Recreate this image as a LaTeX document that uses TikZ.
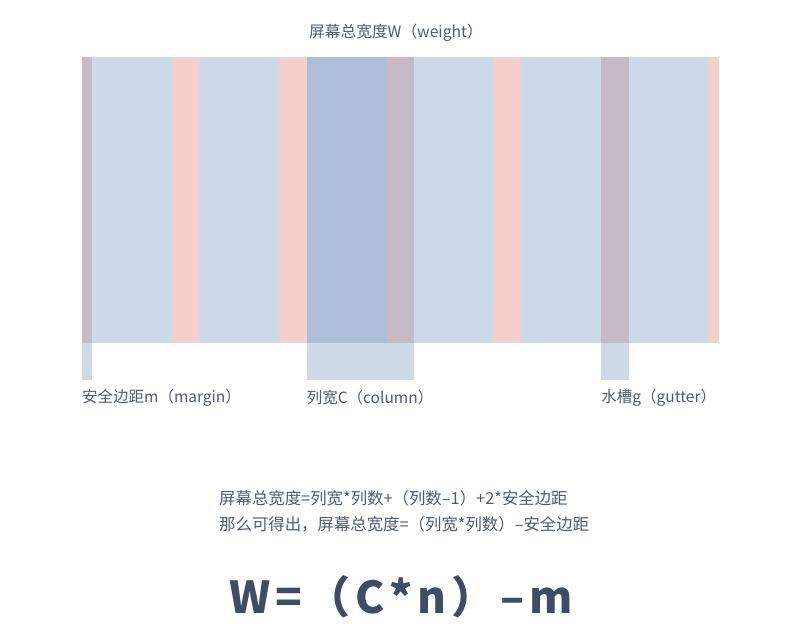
\documentclass[tikz,border=0pt]{standalone}
\usepackage{fontspec}
\setmainfont{Noto Sans CJK SC}
\newfontfamily\formfont[LetterSpace=11]{Noto Sans CJK SC}
\usepackage{tikz}

\definecolor{colblue}{HTML}{CDDAEA}
\definecolor{gutpink}{HTML}{F5D0CB}
\definecolor{colsel}{HTML}{ADBFD8}
\definecolor{gutsel}{HTML}{C6BAC6}
\definecolor{extblue}{HTML}{CFDAE7}
\definecolor{labelgray}{HTML}{505B70}
\definecolor{formgray}{HTML}{3E4C66}

\begin{document}
\begin{tikzpicture}[x=1pt,y=-1pt,
			column box/.style={fill=colblue},
			gutter box/.style={fill=gutpink},
			marked column/.style={fill=colsel},
			marked gutter/.style={fill=gutsel},
			extension box/.style={fill=extblue},
			label text/.style={text=labelgray,font=\fontsize{15.5}{18}\selectfont,inner sep=0pt},
			rule text/.style={label text,anchor=west,font=\fontsize{16.4}{19}\selectfont},
			formula text/.style={text=formgray,font=\formfont\fontsize{44}{50}\selectfont\bfseries,inner sep=0pt}
			]
			
			\useasboundingbox[fill=white] (0,0) rectangle (800,640);
			
			\def \xs {82};    % left edge
			\def \m {10};     % margin
			\def \c {80};     % column width
			\def \g {27.3};   % gutter width
			\def \top {57};
			\def \bot {342.7};
			\def \ext {380};
			
			% columns and gutters
			\foreach \i in {0,...,5} {
				\fill[column box] ({\xs+\m+\i*(\c+\g)},\top) rectangle ++(\c,{\bot-\top});
			}
			\foreach \i in {0,...,4} {
				\fill[gutter box] ({\xs+\m+\c+\i*(\c+\g)},\top) rectangle ++(\g,{\bot-\top});
			}
			\fill[marked gutter] (\xs,\top) rectangle ++(\m,{\bot-\top});
			\fill[gutter box] ({\xs+\m+6*\c+5*\g},\top) rectangle ++(\m,{\bot-\top});
			
			% marked parts
			\fill[marked column] ({\xs+\m+2*(\c+\g)},\top) rectangle ++(\c,{\bot-\top});
			\fill[marked gutter] ({\xs+\m+\c+2*(\c+\g)},\top) rectangle ++(\g,{\bot-\top});
			\fill[marked gutter] ({\xs+\m+\c+4*(\c+\g)},\top) rectangle ++(\g,{\bot-\top});
			
			% extensions below the band
			\fill[extension box] (\xs,\bot) rectangle ++(\m,{\ext-\bot});
			\fill[extension box] ({\xs+\m+2*(\c+\g)},\bot) rectangle ++({\c+\g},{\ext-\bot});
			\fill[extension box] ({\xs+\m+\c+4*(\c+\g)},\bot) rectangle ++(\g,{\ext-\bot});
			
			% texts
			\node[label text,font=\fontsize{15.7}{18}\selectfont] (W) at (396,33) {屏幕总宽度W（weight）};
			\node[label text,anchor=west] (margin) at (\xs,398) {安全边距m（margin）};
			\node[label text,anchor=west] (column) at ({\xs+\m+2*(\c+\g)},398) {列宽C（column）};
			\node[label text,anchor=west] (gutter) at ({\xs+\m+\c+4*(\c+\g)},398) {水槽g（gutter）};
			
			\node[rule text] (rule) at (219,498) {屏幕总宽度=列宽*列数+（列数–1）+2*安全边距};
			\node[rule text] (result) at (219,524) {那么可得出，屏幕总宽度=（列宽*列数）–安全边距};
			\node[formula text] (formula) at (401,597) {W=（C*n）–m};
\end{tikzpicture}
\end{document}
